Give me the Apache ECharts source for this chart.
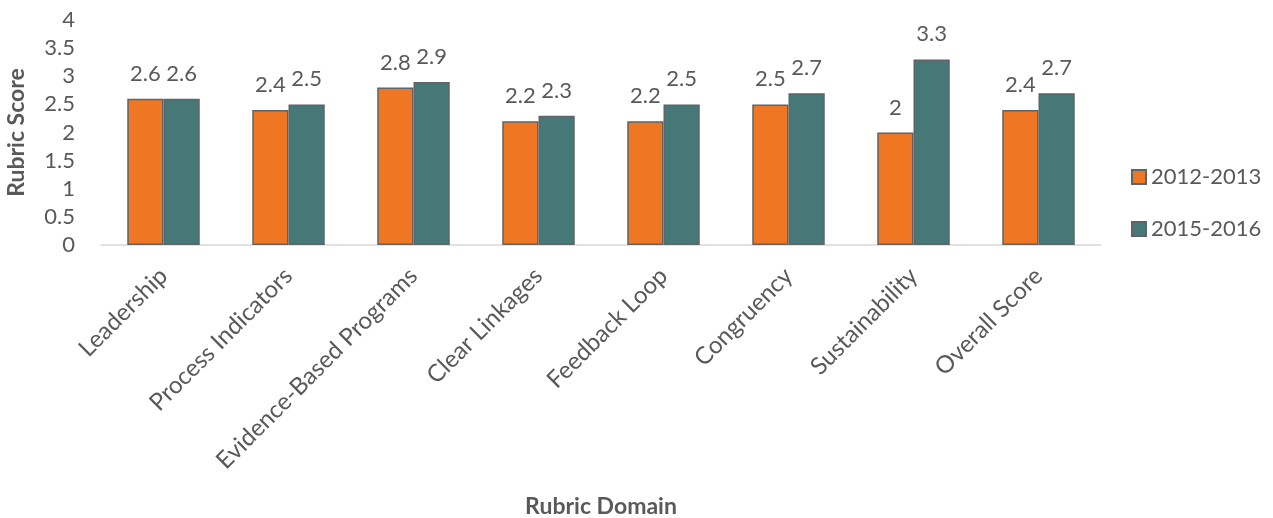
<!DOCTYPE html>
<html>
<head>
<meta charset="utf-8">
<script src="https://cdn.jsdelivr.net/npm/echarts@6/dist/echarts.min.js"></script>
<style>
  html, body { margin: 0; padding: 0; background: #fff; }
  #chart { width: 1273px; height: 518px; }
</style>
</head>
<body>
<div id="chart"></div>
<script>
  var categories = ['Leadership', 'Process Indicators', 'Evidence-Based Programs', 'Clear Linkages',
    'Feedback Loop', 'Congruency', 'Sustainability', 'Overall Score'];
  var scores2012 = [2.6, 2.4, 2.8, 2.2, 2.2, 2.5, 2.0, 2.4];
  var scores2015 = [2.6, 2.5, 2.9, 2.3, 2.5, 2.7, 3.3, 2.7];
  var yTicks = [0, 0.5, 1, 1.5, 2, 2.5, 3, 3.5, 4];

  var font = 'Lato, "Open Sans", sans-serif';
  var grey = '#595959';

  var chart = echarts.init(document.getElementById('chart'));

  function barSeries(name, color, data) {
    return {
      name: name,
      type: 'bar',
      data: data,
      barGap: '0%',
      barCategoryGap: '42%',
      itemStyle: { color: color, borderColor: '#5f6468', borderWidth: 1.5 },
      label: {
        show: true,
        position: 'top',
        distance: 14,
        color: grey,
        fontFamily: font,
        fontSize: 22
      }
    };
  }

  chart.setOption({
    animation: false,
    grid: { left: 101, right: 172, top: 20, bottom: 273, outerBoundsMode: 'none', containLabel: false },
    legend: {
      orient: 'vertical',
      left: 1126,
      top: 161,
      itemGap: 30,
      itemWidth: 14,
      itemHeight: 14,
      icon: 'rect',
      textStyle: { color: grey, fontFamily: font, fontSize: 22 },
      data: ['2012-2013', '2015-2016']
    },
    xAxis: {
      type: 'category',
      data: categories,
      name: 'Rubric Domain',
      nameLocation: 'middle',
      nameGap: 250,
      nameTextStyle: { color: grey, fontFamily: font, fontSize: 23, fontWeight: 'bold' },
      axisLine: { lineStyle: { color: '#d9d9d9', width: 1.5 } },
      axisTick: { show: false },
      axisLabel: {
        rotate: 45,
        margin: 27,
        interval: 0,
        color: grey,
        fontFamily: font,
        fontSize: 24
      }
    },
    yAxis: {
      type: 'value',
      min: yTicks[0],
      max: yTicks[yTicks.length - 1],
      interval: yTicks[1] - yTicks[0],
      name: 'Rubric Score',
      nameLocation: 'middle',
      nameGap: 73,
      nameTextStyle: { color: grey, fontFamily: font, fontSize: 23, fontWeight: 'bold' },
      axisLine: { show: false },
      axisTick: { show: false },
      splitLine: { show: false },
      axisLabel: {
        margin: 26,
        color: grey,
        fontFamily: font,
        fontSize: 22
      }
    },
    series: [
      barSeries('2012-2013', '#ef7723', scores2012),
      barSeries('2015-2016', '#457876', scores2015)
    ]
  });
</script>
</body>
</html>
